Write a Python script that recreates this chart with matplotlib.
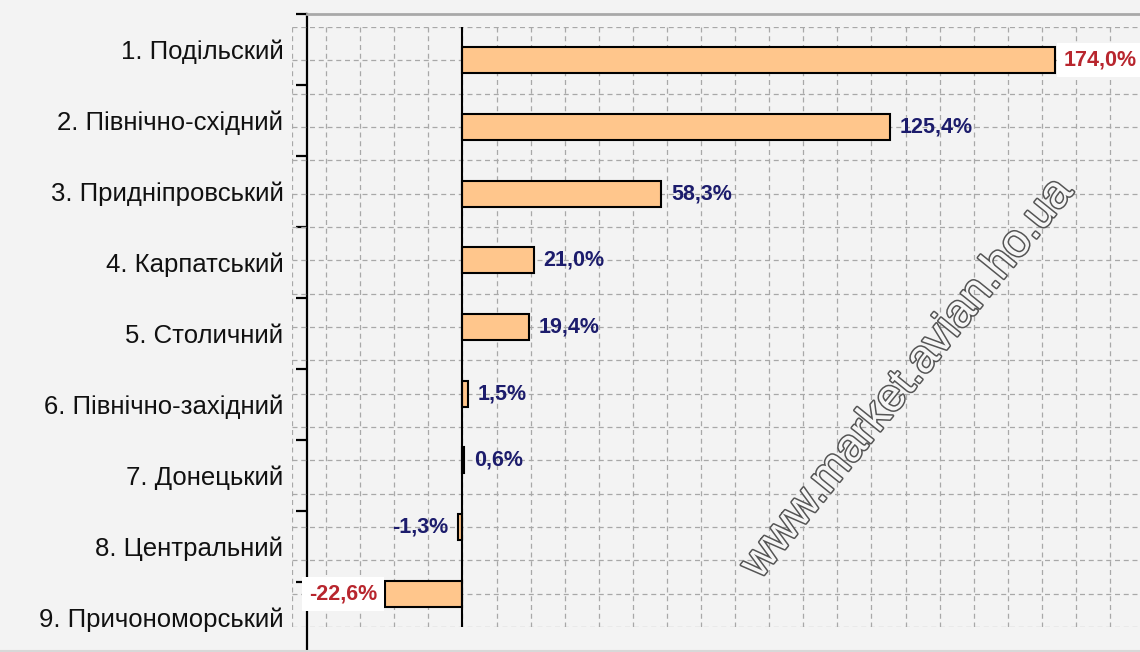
import numpy as np
import matplotlib
matplotlib.use('Agg')
import matplotlib.pyplot as plt
import matplotlib.patheffects as pe

plt.rcParams.update({'font.family': ['Liberation Sans', 'DejaVu Sans']})

regions = ['1. Подільский', '2. Північно-східний', '3. Придніпровський',
           '4. Карпатський', '5. Столичний', '6. Північно-західний',
           '7. Донецький', '8. Центральний', '9. Причономорський']
growth = [174.0, 125.4, 58.3, 21.0, 19.4, 1.5, 0.6, -1.3, -22.6]

bg = '#f3f3f3'
bar_color = '#ffc68c'
navy = '#1c1c6c'
red = '#b8262e'

W, H = 1140, 652
fig = plt.figure(figsize=(W / 100, H / 100), dpi=100, facecolor=bg)

def px_axes(left, top, right, bottom):
    return [left / W, 1 - bottom / H, (right - left) / W, (bottom - top) / H]

# category axis with labels (its own banding, as in the original)
ax2 = fig.add_axes(px_axes(307, 14, W, H + 1))
ax2.patch.set_visible(False)
ax2.set_xlim(0, 1)
ax2.set_ylim(len(regions), 0)
for s in ['right', 'bottom']:
    ax2.spines[s].set_visible(False)
ax2.spines['left'].set_linewidth(1.6)
ax2.spines['left'].set_color('black')
ax2.spines['top'].set_linewidth(2)
ax2.spines['top'].set_color('#a8a8a8')
ax2.set_xticks([])
ax2.set_yticks(np.arange(len(regions) + 1))
ax2.set_yticklabels([])
ax2.set_yticks(np.arange(len(regions)) + 0.5, minor=True)
ax2.set_yticklabels(regions, minor=True, fontsize=18.5, color='#111111')
ax2.tick_params(axis='y', which='major', length=8, width=1.6, direction='out')
ax2.tick_params(axis='y', which='minor', length=0, pad=17)

# bar axis
ax = fig.add_axes(px_axes(292, 27, W, 627))
ax.set_facecolor(bg)
ax.patch.set_visible(False)
for s in ax.spines.values():
    s.set_visible(False)
ax.set_xlim(-50, 198.8)
ax.set_ylim(len(regions) - 0.5, -0.5)
ax.set_xticks(np.arange(-50, 199, 10))
ax.set_yticks(np.arange(-0.5, len(regions), 0.5))
ax.tick_params(length=0, labelleft=False, labelbottom=False)
ax.grid(True, color='#a8a8a8', linestyle=(0, (4, 3)), linewidth=0.9)
ax.set_axisbelow(True)

y = np.arange(len(regions))
ax.barh(y, growth, height=0.39, color=bar_color, edgecolor='black',
        linewidth=1.5, zorder=3)
ax.axvline(0, color='black', linewidth=1.5, zorder=4)

vmax, vmin = max(growth), min(growth)
for yi, v in zip(y, growth):
    txt = f'{v:.1f}'.replace('.', ',') + '%'
    extreme = v in (vmax, vmin)
    col = red if extreme else navy
    off = 6 if extreme else 7
    box = dict(boxstyle='square,pad=0.3', facecolor='white', edgecolor='none') if extreme else None
    sign = 1 if v >= 0 else -1
    ax.annotate(txt, (v, yi), xytext=(sign * off, 0), textcoords='offset points',
                ha='left' if v >= 0 else 'right', va='center', fontsize=15.5,
                fontweight='bold', color=col, bbox=box, zorder=5,
                annotation_clip=False)

# watermark
fig.text(908 / W, 1 - 378 / H, 'www.market.avian.ho.ua', rotation=51,
         ha='center', va='center', fontsize=33, color='#f6f6f6',
         path_effects=[pe.Stroke(linewidth=2.2, foreground='#555555'), pe.Normal()],
         zorder=10)

fig.add_artist(plt.Line2D([0, 1], [1.5 / H, 1.5 / H], color='#d8d8d8', linewidth=1.5))

fig.savefig('out.png', dpi=100, facecolor=bg)
